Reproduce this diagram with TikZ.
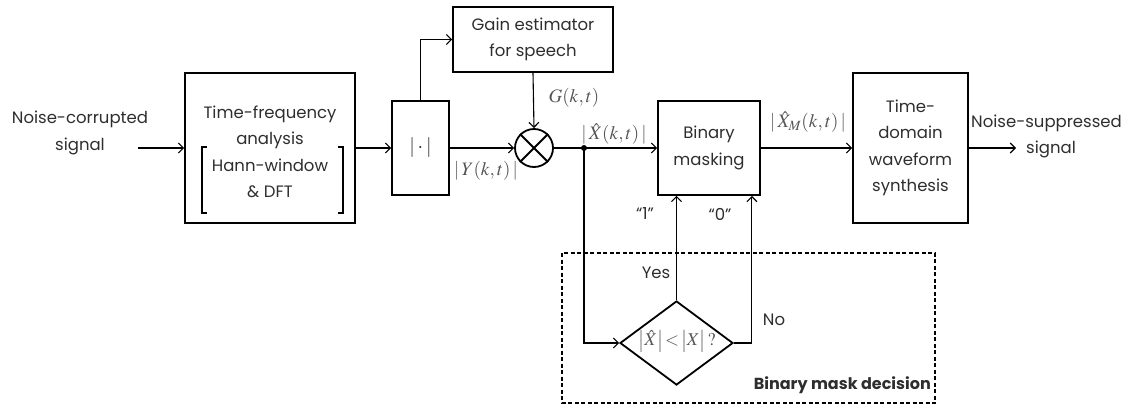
\documentclass[tikz,border=0pt]{standalone}
\usepackage{mathptmx}
\usepackage[no-math]{fontspec}
\setmainfont{Poppins}
\usetikzlibrary{arrows.meta,shapes.geometric,calc}
\definecolor{ink}{HTML}{2E2E2E}
\definecolor{mathink}{HTML}{555555}
\begin{document}
\begin{tikzpicture}[x=1pt,y=-1pt,
  every node/.style={text=ink},
  txt/.style={font=\fontsize{16.5}{26.5}\selectfont, align=center, inner sep=0pt},
  blk/.style={draw=black, line width=1.8pt, txt},
  conn/.style={draw=black, line width=1.1pt, -{Straight Barb[length=5pt,width=10pt,line width=1.1pt]}},
  mlab/.style={text=mathink, font=\fontsize{19}{22}\selectfont, inner sep=0pt}
]
\useasboundingbox (0,0) rectangle (1133,410);

% blocks
\node[blk, minimum width=170pt, minimum height=150pt] (tf) at (270,148) {};
\node[txt] (tft) at (270,152) {Time-frequency\\analysis\\Hann-window\\\& DFT};
\node[blk, minimum width=57pt, minimum height=94pt, font=\fontsize{20}{22}\selectfont] (abs) at (420.5,148) {$|\cdot|$};
\node[blk, minimum width=160pt, minimum height=65pt] (gain) at (533,39.5) {Gain estimator\\for speech};
\node[draw=black, line width=1.8pt, circle, minimum size=38pt, inner sep=0pt] (mult) at (534,148) {};
\draw[line width=1.8pt] (mult.45) -- (mult.225) (mult.135) -- (mult.315);
\node[blk, minimum width=102pt, minimum height=94pt] (mask) at (709,148) {Binary\\masking};
\node[blk, minimum width=115pt, minimum height=150pt] (syn) at (910.5,148) {Time-\\domain\\waveform\\synthesis};

% brackets in TF box
\draw[line width=1.1pt] (207,147) -- (202,147) -- (202,213) -- (207,213);
\draw[line width=1.1pt] (338,147) -- (343,147) -- (343,213) -- (338,213);

% decision box
\draw[line width=1.5pt, dash pattern=on 4pt off 2.5pt] (562,253) rectangle (935,403);
\node[diamond, draw=black, line width=1.8pt, minimum width=113pt, minimum height=84pt, inner sep=0pt] (dec) at (676.5,343) {};
\node[mlab, font=\fontsize{18}{20}\selectfont] (dect) at (677,341) {$\bigl|\hat{X}\bigr|\!<\!\bigl|X\bigr|\,?$};

% input/output text
\node[txt] (inlab) at (80,133) {Noise-corrupted\\signal};
\coordinate (in) at (138,148);
\node[txt, anchor=west] (outlab1) at (971,123) {Noise-suppressed};
\node[txt, anchor=west] (outlab2) at (1026,149) {signal};
\coordinate (out) at (1016,148);

% connectors
\draw[conn] (in) -- (tf.west);
\draw[conn] (tf.east) -- (abs.west);
\draw[conn] (abs.north) |- (gain.west);
\draw[conn] (gain.south) -- (mult.north);
\draw[conn] (abs.east) -- (mult.west);
\coordinate (split) at (584,148);
\draw[conn] (mult.east) -- (mask.west);
\fill (split) circle (3pt);
\draw[conn] (split) |- (dec.west);
\draw[conn] (dec.north) -- (dec.north |- mask.south);
\draw[conn] (dec.east) -| ([xshift=-9pt]mask.south east);
\draw[conn] (mask.east) -- (syn.west);
\draw[conn] (syn.east) -- (out);

% labels
\node[mlab] (Glab) at (574,98) {$G(k,t)$};
\node[mlab] (Ylab) at (486,171) {$|\,Y(k,t)\,|$};
\node[mlab] (Xlab) at (614,134) {$|\,\hat{X}(k,t)\,|$};
\node[mlab] (XMlab) at (808,122) {$|\,\hat{X}_M(k,t)\,|$};
\node[txt] (one) at (645,214) {“1”};
\node[txt] (zero) at (720,214) {“0”};
\node[txt] (yes) at (656,273) {Yes};
\node[txt] (no) at (774,320) {No};
\node[txt, font=\fontsize{16}{18}\selectfont\bfseries, anchor=east] (bmd) at (931,385) {Binary mask decision};
\end{tikzpicture}
\end{document}
